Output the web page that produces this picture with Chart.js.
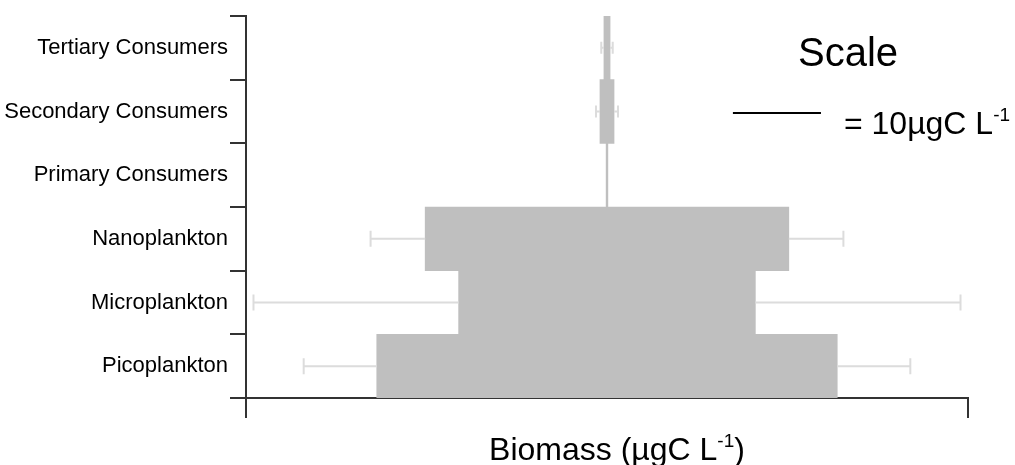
<!DOCTYPE html>
<html>
<head>
<meta charset="utf-8">
<script src="https://cdn.jsdelivr.net/npm/chart.js@4.4.1/dist/chart.umd.min.js"></script>
<style>
  html, body { margin: 0; padding: 0; background: #fff; }
</style>
</head>
<body>
<canvas id="pyramid" width="1015" height="465"></canvas>
<script>
// ---- Data ----
const levels = ['Tertiary Consumers', 'Secondary Consumers', 'Primary Consumers', 'Nanoplankton', 'Microplankton', 'Picoplankton'];
const biomass = [0.7, 1.6, 0.2, 41.3, 33.7, 52.3];   // µgC L-1, full bar width
const biomassSd = [0.3, 0.45, 0, 6.2, 23.3, 8.3];     // drawn out from each bar end
const axisLimit = 41;
const scaleLength = 10;   // µgC L-1 shown by the scale line
const scaleStart = 14.3;

const FONT = "'Liberation Sans', Arial, sans-serif";
const INK = '#333';

// ---- Error bars ----
const errorBars = {
  id: 'errorBars',
  afterDatasetsDraw(chart) {
    const { ctx, scales: { x, y } } = chart;
    ctx.save();
    ctx.strokeStyle = '#dcdcdc';
    ctx.lineWidth = 2;
    biomass.forEach((v, i) => {
      const e = biomassSd[i];
      if (!e) return;
      const yp = y.getPixelForValue(i);
      const cap = v < 5 ? 6 : 8;
      [1, -1].forEach(side => {
        const x0 = x.getPixelForValue(side * v / 2);
        const x1 = x.getPixelForValue(side * (v / 2 + e));
        ctx.beginPath();
        ctx.moveTo(x0, yp);
        ctx.lineTo(x1, yp);
        ctx.moveTo(x1, yp - cap);
        ctx.lineTo(x1, yp + cap);
        ctx.stroke();
      });
    });
    ctx.restore();
  }
};

// text followed by a raised "-1" exponent
function drawUnitText(ctx, parts, size, xPos, baseline, align) {
  const supSize = Math.round(size * 0.6);
  ctx.font = `${size}px ${FONT}`;
  const w0 = ctx.measureText(parts[0]).width;
  const w2 = parts[2] ? ctx.measureText(parts[2]).width : 0;
  ctx.font = `${supSize}px ${FONT}`;
  const w1 = ctx.measureText(parts[1]).width;
  const left = align === 'center' ? xPos - (w0 + w1 + w2) / 2 : xPos;
  ctx.textAlign = 'left';
  ctx.textBaseline = 'alphabetic';
  ctx.font = `${size}px ${FONT}`;
  ctx.fillText(parts[0], left, baseline);
  ctx.font = `${supSize}px ${FONT}`;
  ctx.fillText(parts[1], left + w0, baseline - size * 0.42);
  if (parts[2]) {
    ctx.font = `${size}px ${FONT}`;
    ctx.fillText(parts[2], left + w0 + w1, baseline);
  }
}

// ---- Scale legend + axis title ----
const annotations = {
  id: 'annotations',
  afterDraw(chart) {
    const { ctx, scales: { x } } = chart;
    ctx.save();
    ctx.fillStyle = '#000';

    ctx.font = `40px ${FONT}`;
    ctx.textAlign = 'center';
    ctx.textBaseline = 'alphabetic';
    ctx.fillText('Scale', 848, 66);

    const sx0 = x.getPixelForValue(scaleStart);
    const sx1 = x.getPixelForValue(scaleStart + scaleLength);
    ctx.strokeStyle = '#000';
    ctx.lineWidth = 2;
    ctx.beginPath();
    ctx.moveTo(sx0, 113);
    ctx.lineTo(sx1, 113);
    ctx.stroke();

    drawUnitText(ctx, ['= 10µgC L', '-1'], 32, sx1 + 23, 134, 'left');

    const cx = (x.left + x.right) / 2 + 10;
    drawUnitText(ctx, ['Biomass (µgC L', '-1', ')'], 32, cx, 460, 'center');
    ctx.restore();
  }
};

// ---- Chart ----
new Chart(document.getElementById('pyramid'), {
  type: 'bar',
  data: {
    labels: levels,
    datasets: [{
      data: biomass.map(v => [-v / 2, v / 2]),
      backgroundColor: '#bfbfbf',
      borderWidth: 0,
      barPercentage: 1,
      categoryPercentage: 1
    }]
  },
  options: {
    indexAxis: 'y',
    responsive: false,
    animation: false,
    layout: { padding: { top: 16, right: 47, left: 0, bottom: 0 } },
    plugins: { legend: { display: false }, tooltip: { enabled: false } },
    scales: {
      y: {
        type: 'category',
        afterFit: s => { s.width = 246; },
        grid: { drawOnChartArea: false, offset: true, tickLength: 16, color: INK, lineWidth: 2 },
        border: { color: INK, width: 2 },
        ticks: { color: '#000', padding: 2, font: { family: FONT, size: 22 } }
      },
      x: {
        type: 'linear',
        min: -axisLimit,
        max: axisLimit,
        afterFit: s => { s.height = 67; },
        afterBuildTicks: s => { s.ticks = [{ value: -axisLimit }, { value: axisLimit }]; },
        grid: { drawOnChartArea: false, tickLength: 20, color: INK, lineWidth: 2 },
        border: { color: INK, width: 2 },
        ticks: { callback: () => '' }
      }
    }
  },
  plugins: [errorBars, annotations]
});
</script>
</body>
</html>
